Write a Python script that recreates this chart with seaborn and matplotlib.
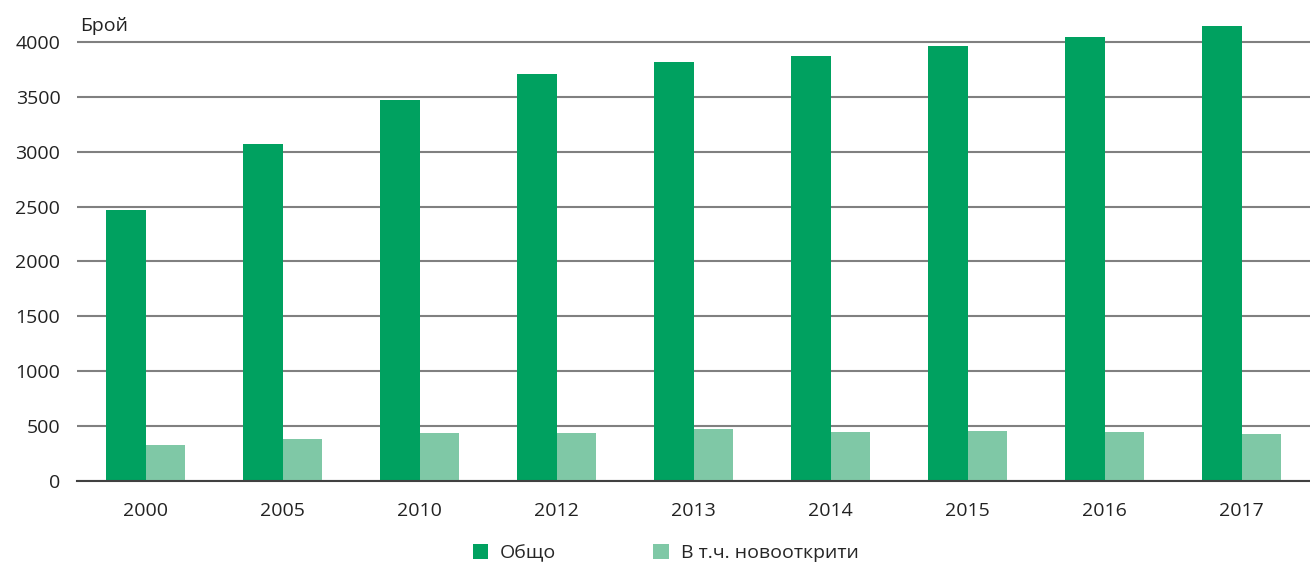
import pandas as pd
import seaborn as sns
import matplotlib.pyplot as plt
from matplotlib.ticker import FixedLocator

# Data
years = ['2000', '2005', '2010', '2012', '2013', '2014', '2015', '2016', '2017']
total = [2470, 3070, 3470, 3710, 3820, 3870, 3960, 4040, 4140]
new_opened = [330, 380, 440, 440, 470, 450, 455, 445, 430]
series_names = ['Общо', 'В т.ч. новооткрити']

df = pd.DataFrame({
    'year': years * 2,
    'value': total + new_opened,
    'series': [series_names[0]] * len(years) + [series_names[1]] * len(years),
})

sns.set_style('white')
plt.rcParams['font.family'] = ['Open Sans', 'DejaVu Sans']

fig = plt.figure(figsize=(13.1, 5.69), dpi=100)
ax = fig.add_axes([0.0588, 0.1547, 0.9412, 0.820])

sns.barplot(data=df, x='year', y='value', hue='series', ax=ax,
            palette=['#00a160', '#7fc8a6'], width=0.58, saturation=1,
            linewidth=0, legend=True)

ax.set_ylim(0, 4250)
ax.set_xlim(-0.5, len(years) - 0.5)
ax.set_yticks(range(0, 4001, 500))
ax.yaxis.grid(True, color='#808080', linewidth=1.5)
ax.set_axisbelow(True)
for s in ['top', 'right', 'left']:
    ax.spines[s].set_visible(False)
ax.spines['bottom'].set_color('#404040')
ax.spines['bottom'].set_linewidth(1.5)

ax.set_xlabel('')
ax.set_ylabel('')
ax.tick_params(axis='y', length=0, labelsize=14, pad=12, colors='#222222')
ax.tick_params(axis='x', which='major', length=0, labelsize=14, pad=15, colors='#222222')
ax.xaxis.set_minor_locator(FixedLocator([i + 0.5 for i in range(len(years) - 1)]))
ax.tick_params(axis='x', which='minor', length=8, width=1.5, color='#404040', direction='out')

fig.text(0.061, 0.945, 'Брой', fontsize=14, color='#222222')

handles, labels = ax.get_legend_handles_labels()
ax.legend_.remove()
fig.legend(handles, labels, loc='center', bbox_to_anchor=(0.508, 0.028), ncol=2,
           frameon=False, fontsize=14, handlelength=0.8, handleheight=0.8,
           columnspacing=5.0, handletextpad=0.6)

plt.savefig('out.png', dpi=100)
